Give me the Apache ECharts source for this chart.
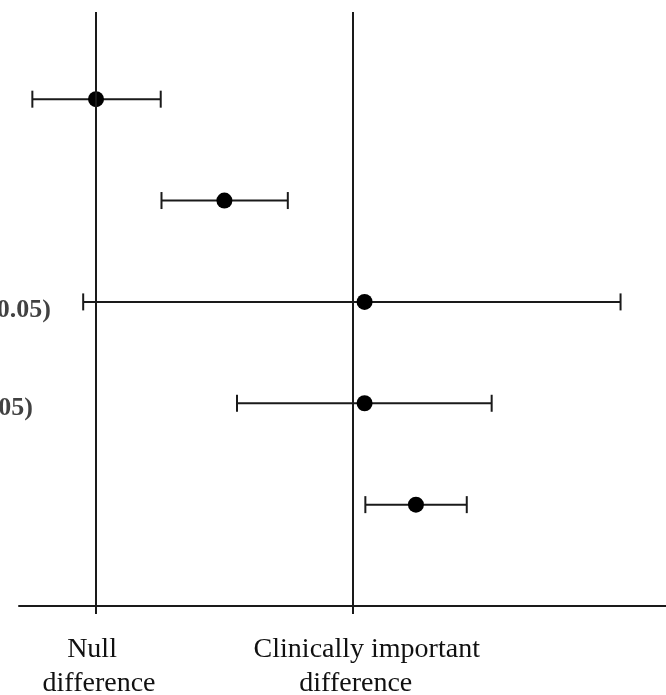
<!DOCTYPE html>
<html><head><meta charset="utf-8">
<script src="https://cdn.jsdelivr.net/npm/echarts@6/dist/echarts.min.js"></script>
<style>html,body{margin:0;padding:0;background:#fff}#c{width:666px;height:695px}</style>
</head><body><div id="c"></div>
<script>
const rows = [1, 2, 3, 4, 5];
const estimates = [0, 0.500, 1.046, 1.046, 1.246];
const lowerCI = [-0.248, 0.255, -0.050, 0.549, 1.049];
const upperCI = [0.252, 0.747, 2.043, 1.541, 1.444];
const referenceValues = [0, 1];
const referenceLabels = { 0: '{a|Null}\n{b|difference}', 1: '{c|Clinically important}\n{b|difference}' };
const rowLabels = ['', '', '(p<0.05)', '(p>0.05)', ''];

const ink = '#1a1a1a';
const serif = '"Liberation Serif", "Times New Roman", serif';
const chart = echarts.init(document.getElementById('c'), null, { renderer: 'canvas' });

const ciData = rows.map((r, i) => [r, lowerCI[i], upperCI[i]]);
const ptData = rows.map((r, i) => [estimates[i], r]);
const labelOffsets = { 3: [32, 8], 4: [14, 5] };
const labelData = rows
  .map((r, i) => ({ value: [-0.3, r, rowLabels[i]], label: { offset: labelOffsets[r] || [0, 0] } }))
  .filter(d => d.value[2]);

chart.setOption({
  animation: false,
  backgroundColor: '#fff',
  grid: { left: 19, right: 0, top: 12, bottom: 89, containLabel: false, outerBoundsMode: 'none' },
  xAxis: {
    type: 'value', min: -0.3, max: 2.22,
    splitLine: { show: false },
    axisLine: { show: true, lineStyle: { color: ink, width: 2 } },
    axisTick: { show: true, customValues: referenceValues, length: 8, lineStyle: { color: ink, width: 2 } },
    axisLabel: {
      show: true, customValues: referenceValues, margin: 27,
      formatter: v => referenceLabels[v] || '',
      color: '#111', fontFamily: serif, fontSize: 28, lineHeight: 34,
      rich: {
        a: { fontFamily: serif, fontSize: 28, lineHeight: 34, color: '#111', padding: [0, 8, 0, 0] },
        b: { fontFamily: serif, fontSize: 28, lineHeight: 34, color: '#111', padding: [0, 0, 0, 6] },
        c: { fontFamily: serif, fontSize: 28, lineHeight: 34, color: '#111', padding: [0, 0, 0, 28] }
      }
    }
  },
  yAxis: {
    type: 'value', min: 0.14, max: 6.0, inverse: true, show: false,
    splitLine: { show: false }
  },
  series: [
    {
      type: 'custom',
      data: ciData,
      encode: { y: 0, x: [1, 2] },
      z: 2,
      renderItem: function (params, api) {
        const lo = api.coord([api.value(1), api.value(0)]);
        const hi = api.coord([api.value(2), api.value(0)]);
        const h = 8.5;
        const st = { stroke: ink, lineWidth: 2 };
        return {
          type: 'group',
          children: [
            { type: 'line', shape: { x1: lo[0], y1: lo[1], x2: hi[0], y2: hi[1] }, style: st },
            { type: 'line', shape: { x1: lo[0], y1: lo[1] - h, x2: lo[0], y2: lo[1] + h }, style: st },
            { type: 'line', shape: { x1: hi[0], y1: hi[1] - h, x2: hi[0], y2: hi[1] + h }, style: st }
          ]
        };
      }
    },
    {
      type: 'scatter',
      data: ptData,
      symbol: 'circle',
      symbolSize: 16,
      itemStyle: { color: '#000', opacity: 1 },
      z: 3,
      markLine: {
        silent: true, symbol: 'none',
        label: { show: false },
        lineStyle: { color: ink, width: 2, type: 'solid', opacity: 1 },
        data: referenceValues.map(v => ({ xAxis: v }))
      }
    },
    {
      type: 'scatter',
      data: labelData,
      symbolSize: 0,
      clip: false,
      z: 4,
      label: {
        show: true, position: 'left', distance: 0,
        formatter: p => p.data.value[2],
        fontFamily: serif, fontWeight: 'bold', fontSize: 26, color: '#111'
      }
    }
  ]
});
</script>
</body></html>
